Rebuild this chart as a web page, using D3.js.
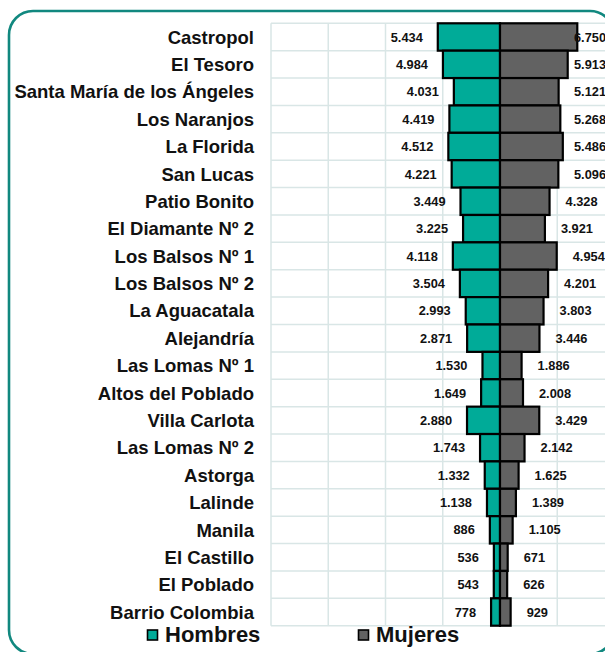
<!DOCTYPE html>
<html><head><meta charset="utf-8">
<script src="https://cdn.jsdelivr.net/npm/d3@7"></script>
<style>body{margin:0;background:#fff;overflow:hidden}svg{display:block}</style>
</head><body>
<svg id="c" width="605" height="652"></svg>
<script>
const categories = ["Castropol","El Tesoro","Santa María de los Ángeles","Los Naranjos","La Florida","San Lucas","Patio Bonito","El Diamante Nº 2","Los Balsos Nº 1","Los Balsos Nº 2","La Aguacatala","Alejandría","Las Lomas Nº 1","Altos del Poblado","Villa Carlota","Las Lomas Nº 2","Astorga","Lalinde","Manila","El Castillo","El Poblado","Barrio Colombia"];
const hombres = [5434,4984,4031,4419,4512,4221,3449,3225,4118,3504,2993,2871,1530,1649,2880,1743,1332,1138,886,536,543,778];
const mujeres = [6750,5913,5121,5268,5486,5096,4328,3921,4954,4201,3803,3446,1886,2008,3429,2142,1625,1389,1105,671,626,929];
const seriesNames = ["Hombres","Mujeres"];
const gridTicks = [-20000,-15000,-10000,-5000,0,5000,10000,15000,20000];

const colH = "#00ab98", colM = "#626262";
const FF = "'Liberation Sans', Arial, sans-serif";
const svg = d3.select("#c");
const fmt = d3.formatLocale({decimal:",",thousands:".",grouping:[3],currency:["$",""]}).format(",d");

// frame
svg.append("rect").attr("x",9).attr("y",11).attr("width",605).attr("height",643)
  .attr("rx",24).attr("ry",24).attr("fill","none").attr("stroke","#11887f").attr("stroke-width",2.6);

const x = d3.scaleLinear().domain([-20000,20000]).range([271,729]);
const y = d3.scaleBand().domain(categories).range([23.3,625.7]).padding(0);

const plot = svg.append("g");
// grid
plot.selectAll("line.v").data(gridTicks).join("line")
  .attr("x1",d=>x(d)).attr("x2",d=>x(d)).attr("y1",y.range()[0]).attr("y2",y.range()[1])
  .attr("stroke","#d9e6e6").attr("stroke-width",1.5);
const hb = categories.map(c=>y(c)).concat([y.range()[1]]);
plot.selectAll("line.h").data(hb).join("line")
  .attr("x1",x(-20000)).attr("x2",x(20000)).attr("y1",d=>d).attr("y2",d=>d)
  .attr("stroke","#d9e6e6").attr("stroke-width",1.5);

// bars
const rows = categories.map((c,i)=>({c,h:hombres[i],m:mujeres[i]}));
plot.selectAll("rect.h").data(rows).join("rect")
  .attr("x",d=>x(-d.h)).attr("width",d=>x(0)-x(-d.h))
  .attr("y",d=>y(d.c)).attr("height",y.bandwidth())
  .attr("fill",colH).attr("stroke","#000").attr("stroke-width",2.2);
plot.selectAll("rect.m").data(rows).join("rect")
  .attr("x",x(0)).attr("width",d=>x(d.m)-x(0))
  .attr("y",d=>y(d.c)).attr("height",y.bandwidth())
  .attr("fill",colM).attr("stroke","#000").attr("stroke-width",2.2);

// value labels
plot.selectAll("text.h").data(rows).join("text")
  .attr("x",d=>x(-d.h)-15).attr("y",d=>y(d.c)+y.bandwidth()/2).attr("dy","0.36em")
  .attr("text-anchor","end").attr("font-family",FF).attr("font-weight","bold").attr("font-size",12.8)
  .attr("fill","#111").text(d=>fmt(d.h));
const mt = plot.selectAll("text.m").data(rows).join("text")
  .attr("y",d=>y(d.c)+y.bandwidth()/2).attr("dy","0.36em")
  .attr("font-family",FF).attr("font-weight","bold").attr("font-size",12.8)
  .attr("fill","#111").text(d=>fmt(d.m));
mt.each(function(d){
  const w = this.getComputedTextLength();
  d3.select(this).attr("x", Math.min(x(d.m)+16, 606-w));
});

// category labels
svg.selectAll("text.cat").data(categories).join("text")
  .attr("x",254).attr("y",d=>y(d)+y.bandwidth()/2).attr("dy","0.36em")
  .attr("text-anchor","end").attr("font-family",FF).attr("font-weight","bold").attr("font-size",18.5)
  .attr("fill","#111").text(d=>d);

// legend
const leg = [{n:seriesNames[0],c:colH,x:147},{n:seriesNames[1],c:colM,x:358}];
const lg = svg.selectAll("g.leg").data(leg).join("g").attr("transform",d=>`translate(${d.x},0)`);
lg.append("rect").attr("x",0.5).attr("y",630).attr("width",10).attr("height",10)
  .attr("fill",d=>d.c).attr("stroke","#000").attr("stroke-width",1.6);
lg.append("text").attr("x",18).attr("y",642).attr("font-family",FF).attr("font-weight","bold").attr("font-size",22)
  .attr("fill","#111").text(d=>d.n);
</script>
</body></html>
